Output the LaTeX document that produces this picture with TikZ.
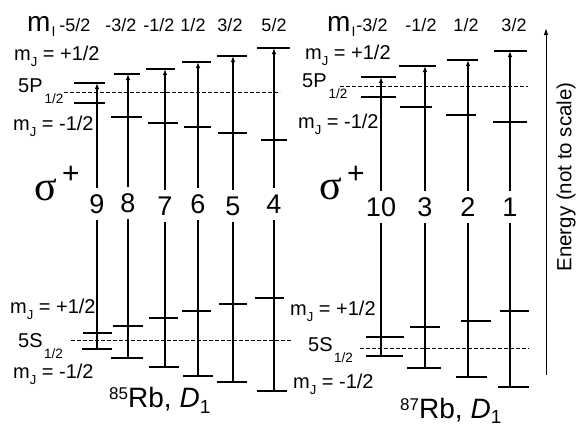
\documentclass[tikz,border=0pt]{standalone}
\usepackage{fontspec}
\setmainfont{Liberation Sans}
\newfontfamily\greekserif{Liberation Serif}
\usetikzlibrary{arrows.meta}
\newcommand{\fs}[1]{\fontsize{#1}{#1}\selectfont}
\newcommand{\mjl}[1]{m\raisebox{-0.3em}{\fs{13}J} = #1}
\begin{document}
\begin{tikzpicture}[x=1pt,y=-1pt,
  lev/.style={line width=2.4pt},
  trans/.style={line width=1.2pt},
  tip/.style={-{Latex[length=6pt,width=4.5pt]}},
  refl/.style={line width=0.8pt, dash pattern=on 3.5pt off 2.5pt},
  num/.style={font=\fs{27}, inner xsep=1pt, inner ysep=6.5pt},
  lab/.style={font=\fs{20}, inner sep=0pt, anchor=base west},
  hdr/.style={font=\fs{18}, inner sep=0pt, anchor=base},
  sig/.style={inner sep=0pt}
]
\useasboundingbox (0,0) rectangle (578,426);

% ---------- 85Rb ----------
\draw[refl] (64,92) -- (280,92);
\draw[refl] (71,340) -- (292,340);
% P up
\draw[lev] (74,83)--(105,83); \draw[lev] (114,74)--(140,74); \draw[lev] (146,69)--(175,69);
\draw[lev] (182,62)--(211,62); \draw[lev] (217,56)--(247,56); \draw[lev] (257,48)--(290,48);
% P low
\draw[lev] (74,103)--(105,103); \draw[lev] (111,117)--(142,117); \draw[lev] (148,123)--(178,123);
\draw[lev] (184,127)--(211,127); \draw[lev] (218,133)--(247,133); \draw[lev] (261,140)--(287,140);
% S up
\draw[lev] (83,333)--(112,333); \draw[lev] (113,326)--(143,326); \draw[lev] (149,318)--(178,318);
\draw[lev] (182,311)--(211,311); \draw[lev] (219,304)--(247,304); \draw[lev] (255,298)--(284,298);
% S low
\draw[lev] (82,349)--(112,349); \draw[lev] (111,358)--(143,358); \draw[lev] (149,367)--(179,367);
\draw[lev] (183,376)--(213,376); \draw[lev] (217,382)--(247,382); \draw[lev] (257,391)--(287,391);

\foreach \x/\pt/\sb/\n/\ny in {97/83/349/9/204, 128/74/358/8/203, 165/69/367/7/206,
  198/62/376/6/204, 233/56/382/5/206, 274/48/391/4/204,
  381/77/356/10/207, 425/66/368/3/207, 468/60/377/2/207, 510/51/387/1/207}{
  \coordinate (p\n) at (\x,\pt);
  \coordinate (s\n) at (\x,\sb);
  \node[num] (n\n) at (\x,\ny) {\n};
  \draw[trans] (s\n) -- (n\n);
  \draw[trans,tip] (n\n) -- (p\n);
}

% ---------- 87Rb ----------
\draw[refl] (340,86) -- (528,86);
\draw[refl] (360,348) -- (529,348);
\draw[lev] (361,77)--(396,77); \draw[lev] (399,66)--(436,66); \draw[lev] (447,60)--(478,60); \draw[lev] (494,51)--(527,51);
\draw[lev] (361,97)--(396,97); \draw[lev] (400,107)--(432,107); \draw[lev] (446,115)--(476,115); \draw[lev] (493,122)--(527,122);
\draw[lev] (366,337)--(404,337); \draw[lev] (410,327)--(440,327); \draw[lev] (461,321)--(491,321); \draw[lev] (500,311)--(529,311);
\draw[lev] (366,356)--(403,356); \draw[lev] (407,368)--(441,368); \draw[lev] (456,377)--(487,377); \draw[lev] (498,387)--(529,387);

% headers
\node[hdr, anchor=base west, font=\fs{28}] (mil) at (27,31) {m\hspace{1pt}\raisebox{-5pt}{\fs{14}I}};
\foreach \x/\t/\k in {75/-5\slash 2/a, 121/-3\slash 2/b, 159/-1\slash 2/c, 193/1\slash 2/d, 230/3\slash 2/e, 274/5\slash 2/f}{
  \node[hdr] (hl\k) at (\x,31.5) {\t};
}
\node[hdr, anchor=base west, font=\fs{28}] (mir) at (327,31) {m\hspace{1pt}\raisebox{-5pt}{\fs{14}I}};
\foreach \x/\t/\k in {372/-3\slash 2/a, 421/-1\slash 2/b, 466/1\slash 2/c, 514/3\slash 2/d}{
  \node[hdr] (hr\k) at (\x,31.5) {\t};
}

% level labels left
\node[lab] (l1) at (14,60) {\mjl{+1/2}};
\node[lab,font=\fs{20}] (l2) at (18,92) {5P\hspace{2pt}\raisebox{-11pt}{\fs{13.5}1/2}};
\node[lab] (l3) at (13,130) {\mjl{-1/2}};
\node[lab] (l4) at (10,313) {\mjl{+1/2}};
\node[lab,font=\fs{20}] (l5) at (18,347) {5S\hspace{1.5pt}\raisebox{-11pt}{\fs{13.5}1/2}};
\node[lab] (l6) at (13,378) {\mjl{-1/2}};
% level labels right
\node[lab] (r1) at (305,59) {\mjl{+1/2}};
\node[lab,font=\fs{20}] (r2) at (302,87) {5P\hspace{2pt}\raisebox{-11pt}{\fs{13.5}1/2}};
\node[lab] (r3) at (298,128) {\mjl{-1/2}};
\node[lab] (r4) at (290,315) {\mjl{+1/2}};
\node[lab,font=\fs{20}] (r5) at (308,351) {5S\hspace{1.5pt}\raisebox{-11pt}{\fs{13.5}1/2}};
\node[lab] (r6) at (293,388) {\mjl{-1/2}};

% sigma
\node[sig, font=\greekserif\fs{42}] (sgl) at (46,190) {σ};
\node[sig, font=\fs{30}] (pll) at (71,175) {+};
\node[sig, font=\greekserif\fs{42}] (sgr) at (331,189) {σ};
\node[sig, font=\fs{30}] (plr) at (356,175) {+};

% titles
\node[lab, font=\fs{28}] (tl) at (109,407) {\raisebox{8pt}{\fs{17}85}Rb,\hspace{8pt}\textit{D}\raisebox{-6pt}{\fs{19}1}};
\node[lab, font=\fs{28}] (tr) at (400,418) {\raisebox{8pt}{\fs{17}87}Rb,\hspace{8pt}\textit{D}\raisebox{-5pt}{\fs{19}1}};

% energy axis
\coordinate (eb) at (546,375);
\coordinate (et) at (546,28);
\draw[line width=1pt, -{Latex[length=7pt,width=4.5pt]}] (eb) -- (et);
\node[font=\fs{20.5}, rotate=90, inner sep=0pt] (en) at (566,177) {Energy (not to scale)};
\end{tikzpicture}
\end{document}
